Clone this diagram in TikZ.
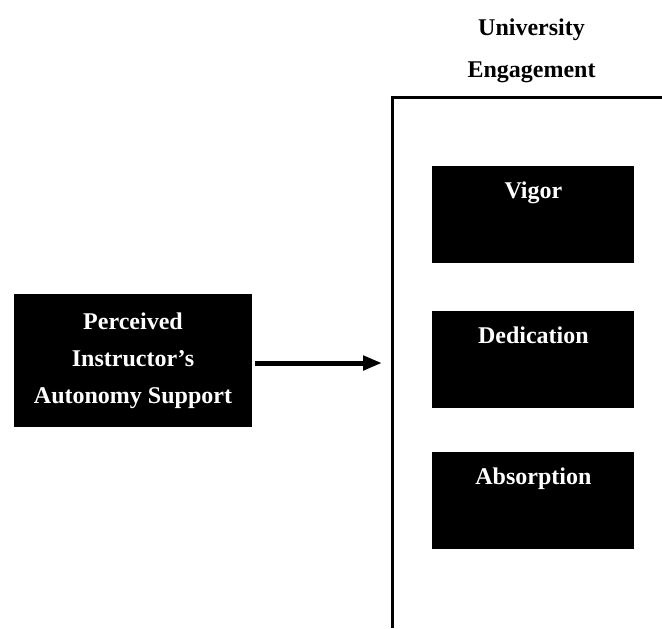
\documentclass[tikz,border=0pt]{standalone}
\usepackage{fontspec}
\setmainfont{Liberation Serif}
\usetikzlibrary{positioning, arrows.meta}

\begin{document}
\begin{tikzpicture}[
    x=0.5pt, y=-0.5pt,
    subbox/.style={fill=black, text=white, font=\fontsize{12}{18.5}\selectfont\bfseries,
      minimum width=101pt, inner xsep=0pt, inner ysep=0pt,
      text height=16pt, text depth=32.5pt},
    mainbox/.style={fill=black, text=white, font=\fontsize{12}{18.5}\selectfont\bfseries,
      align=center, minimum width=119pt, minimum height=66.5pt, inner sep=0pt},
    heading/.style={font=\fontsize{12}{21}\selectfont\bfseries, align=center},
    node distance=23pt,
  ]
    \useasboundingbox (0,0) rectangle (662,628);
    % open frame round the engagement boxes
    \draw[line width=1.6pt] (662,97.5) -- (392.5,97.5) -- (392.5,628);
    \node[heading] (title) at (531.5,51) {University\\Engagement};
    \node[subbox, anchor=north west] (vigor) at (432,166) {Vigor};
    \node[subbox, below=23.5pt of vigor] (dedication) {Dedication};
    \node[subbox, below=21.5pt of dedication] (absorption) {Absorption};
    \node[mainbox] (support) at (133,360.5) {Perceived\\Instructor's\\Autonomy Support};
    \coordinate (frameleft) at (382,363);
    \draw[line width=2.5pt, -{Triangle[length=9.5pt,width=7pt]}]
      ([xshift=1.5pt]support.east |- frameleft) -- (frameleft);
  \end{tikzpicture}
\end{document}
